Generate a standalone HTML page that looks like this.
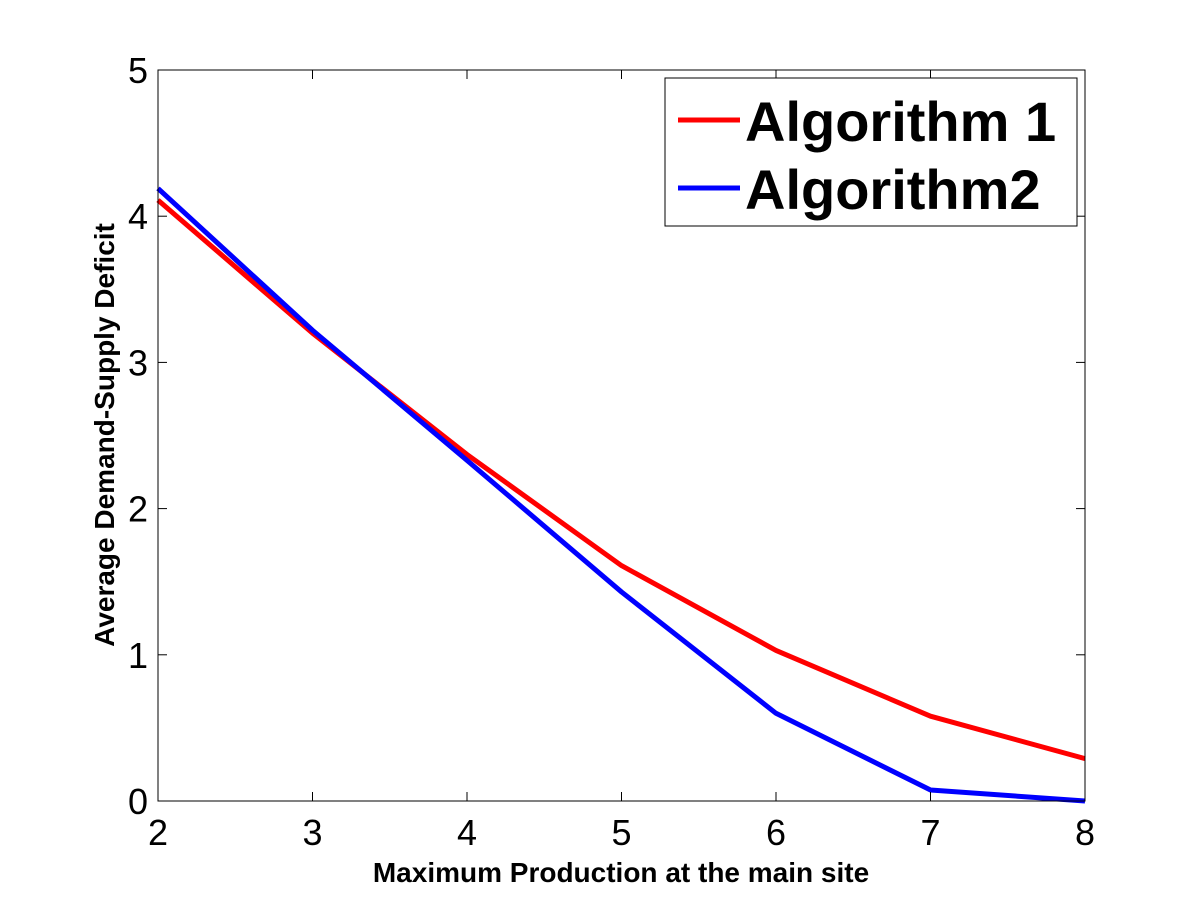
<!DOCTYPE html>
<html><head><meta charset="utf-8"><style>
html,body{margin:0;padding:0;background:#fff;}
svg{display:block;font-family:"Liberation Sans",Arial,sans-serif;}
</style></head><body>
<svg id="chart" width="1200" height="901" viewBox="0 0 1200 901">
<rect x="0" y="0" width="1200" height="901" fill="#fff"/>
<g id="series"></g>
<g id="axes"></g>
</svg>
<script>
const xCategories = [2, 3, 4, 5, 6, 7, 8];
const algo1Values = [4.11, 3.2, 2.37, 1.61, 1.03, 0.58, 0.29];
const algo2Values = [4.19, 3.22, 2.33, 1.43, 0.60, 0.075, 0.0];
const xTickLabels = ["2","3","4","5","6","7","8"];
const yTickValues = [0,1,2,3,4,5];

const L=158,R=1085,T=70,B=801;
const xs=v=>L+(v-2)/(8-2)*(R-L);
const ys=v=>B-(v/5)*(B-T);
const NS="http://www.w3.org/2000/svg";
const series=document.getElementById('series');
const axes=document.getElementById('axes');
function mk(tag,attrs,parent){const e=document.createElementNS(NS,tag);for(const k in attrs)e.setAttribute(k,attrs[k]);parent.appendChild(e);return e;}

const frame=mk('rect',{x:L,y:T,width:R-L,height:B-T,fill:'none',stroke:'#000','stroke-width':1},axes);



xCategories.forEach((v,i)=>{
  const x=xs(v);
  const t1=mk('line',{x1:x,y1:B,x2:x,y2:B-9,stroke:'#000'},axes);
  
  
  mk('line',{x1:x,y1:T,x2:x,y2:T+9,stroke:'#000'},axes);
  const tx=mk('text',{x:x,y:B+44,'font-size':36,'text-anchor':'middle',fill:'#000'},axes);
  tx.textContent=xTickLabels[i];
  
  
});
yTickValues.forEach(v=>{
  const y=ys(v);
  const t1=mk('line',{x1:L,y1:y,x2:L+9,y2:y,stroke:'#000'},axes);
  
  
  mk('line',{x1:R,y1:y,x2:R-9,y2:y,stroke:'#000'},axes);
  const tx=mk('text',{x:L-10,y:y+13,'font-size':36,'text-anchor':'end',fill:'#000'},axes);
  tx.textContent=String(v);
  
  
});

const xt=mk('text',{x:621,y:882,'font-size':28,'font-weight':'bold','text-anchor':'middle',fill:'#000'},axes);
xt.textContent='Maximum Production at the main site';


const yt=mk('text',{x:0,y:0,'font-size':28,'font-weight':'bold','text-anchor':'middle',fill:'#000',transform:'translate(114,435) rotate(-90)'},axes);
yt.textContent='Average Demand-Supply Deficit';



function line(vals,color,name){
  const pts=vals.map((v,i)=>xs(xCategories[i])+','+ys(v)).join(' ');
  const p=mk('polyline',{points:pts,fill:'none',stroke:color,'stroke-width':5,'stroke-linejoin':'round'},series);
  
  
}
line(algo1Values,'#ff0000','algorithm-1-line');
line(algo2Values,'#0000ff','algorithm-2-line');

const lg=mk('g',{},axes);


mk('rect',{x:665,y:78,width:412,height:148,fill:'#fff',stroke:'#000'},lg);
const entries=[['Algorithm 1','#ff0000',120],['Algorithm2','#0000ff',188]];
entries.forEach(([t,c,y])=>{
  const g=mk('g',{},lg);
  
  
  mk('line',{x1:678,y1:y,x2:740,y2:y,stroke:c,'stroke-width':5},g);
  const tx=mk('text',{x:745,y:y+21,'font-size':56,'font-weight':'bold',fill:'#000'},g);
  tx.textContent=t;
});
</script>
</body></html>
